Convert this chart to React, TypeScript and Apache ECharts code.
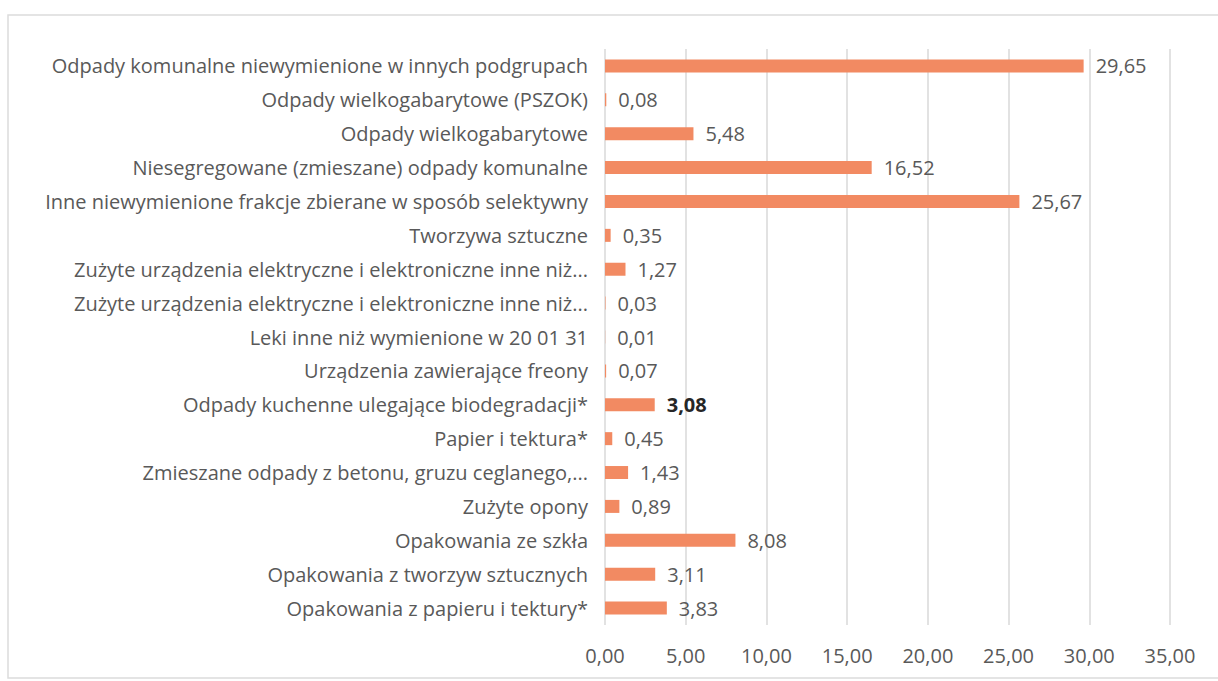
import React, { useEffect, useRef } from "react";
import * as echarts from "echarts";

const categories = [
  "Odpady komunalne niewymienione w innych podgrupach",
  "Odpady wielkogabarytowe (PSZOK)",
  "Odpady wielkogabarytowe",
  "Niesegregowane (zmieszane) odpady komunalne",
  "Inne niewymienione frakcje zbierane w sposób selektywny",
  "Tworzywa sztuczne",
  "Zużyte urządzenia elektryczne i elektroniczne inne niż...",
  "Zużyte urządzenia elektryczne i elektroniczne inne niż...",
  "Leki inne niż wymienione w 20 01 31",
  "Urządzenia zawierające freony",
  "Odpady kuchenne ulegające biodegradacji*",
  "Papier i tektura*",
  "Zmieszane odpady z betonu, gruzu ceglanego,...",
  "Zużyte opony",
  "Opakowania ze szkła",
  "Opakowania z tworzyw sztucznych",
  "Opakowania z papieru i tektury*",
];

const values = [29.65, 0.08, 5.48, 16.52, 25.67, 0.35, 1.27, 0.03, 0.01, 0.07, 3.08, 0.45, 1.43, 0.89, 8.08, 3.11, 3.83];

const boldIndex = 10;

const fmt = (v: number) => v.toFixed(2).replace(".", ",");

export default function App() {
  const ref = useRef<HTMLDivElement>(null);
  useEffect(() => {
    const chart = echarts.init(ref.current!, null, { renderer: "svg" });
    const font = "'Open Sans', sans-serif";
    chart.setOption({
      animation: false,
      backgroundColor: "#ffffff",
      graphic: [
        {
          type: "rect",
          shape: { x: 8, y: 15, width: 1230, height: 663 },
          style: { fill: "none", stroke: "#dcdcdc", lineWidth: 1.5 },
          silent: true,
        },
      ],
      grid: { left: 605, right: 48, top: 49, bottom: 56 },
      xAxis: {
        type: "value",
        min: 0,
        max: 35,
        interval: 5,
        axisLine: { show: false },
        axisTick: { show: false },
        splitLine: { show: true, lineStyle: { color: "#d9d9d9", width: 1.5 } },
        axisLabel: {
          formatter: (v: number) => fmt(v),
          color: "#595959",
          fontSize: 20,
          fontFamily: font,
          margin: 20,
        },
      },
      yAxis: {
        type: "category",
        inverse: true,
        data: categories,
        axisLine: { show: false },
        axisTick: { show: false },
        axisLabel: {
          color: "#595959",
          fontSize: 20,
          fontFamily: font,
          margin: 17,
        },
      },
      series: [
        {
          type: "bar",
          data: values.map((v, i) =>
            i === boldIndex
              ? { value: v, label: { color: "#262626", fontWeight: "bold" } }
              : v
          ),
          barWidth: 13,
          itemStyle: { color: "#F28A62" },
          label: {
            show: true,
            position: "right",
            distance: 12,
            color: "#595959",
            fontSize: 20,
            fontFamily: font,
            formatter: (p: any) => fmt(p.value),
          },
        },
      ],
    });
    return () => chart.dispose();
  }, []);
  return (
    <div
      ref={ref}
      style={{ position: "fixed", left: 0, top: 0, width: 1218, height: 681 }}
    />
  );
}
